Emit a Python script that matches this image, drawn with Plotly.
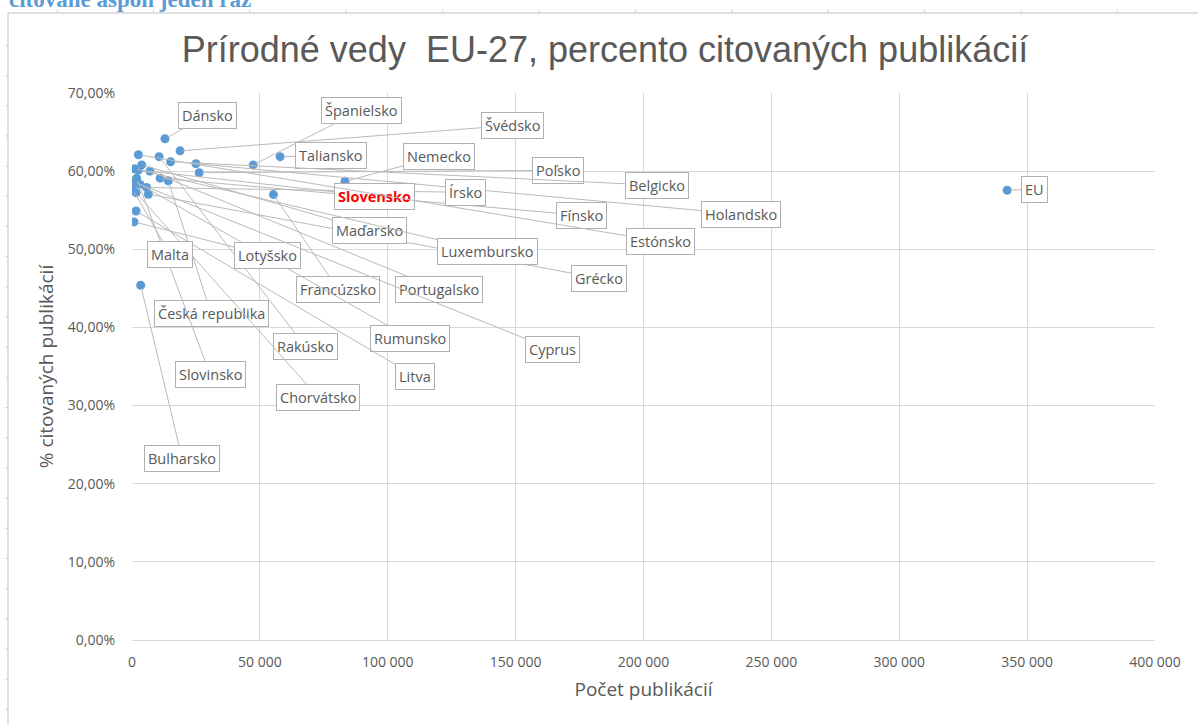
import plotly.graph_objects as go

# ---------------- data ----------------
countries = ["Dánsko", "Švédsko", "Španielsko", "Taliansko", "Nemecko", "Francúzsko",
             "Bulharsko", "EU", "Holandsko", "Poľsko", "Belgicko", "Rakúsko",
             "Česká republika", "Fínsko", "Portugalsko", "Grécko", "Írsko", "Maďarsko",
             "Rumunsko", "Slovensko", "Estónsko", "Slovinsko", "Chorvátsko", "Litva",
             "Lotyšsko", "Luxembursko", "Cyprus", "Malta"]
publications = [12900, 18800, 47400, 57900, 83300, 55300,
                3400, 342200, 25000, 26300, 15100, 10600,
                14200, 11000, 7000, 6400, 5700, 3800,
                3100, 2500, 2500, 1800, 1600, 1600,
                800, 900, 1000, 400]
cited_share = [0.6415, 0.626, 0.608, 0.6185, 0.587, 0.570,
               0.454, 0.5756, 0.6096, 0.598, 0.612, 0.6185,
               0.5875, 0.591, 0.600, 0.5705, 0.579, 0.608,
               0.583, 0.6015, 0.621, 0.591, 0.5725, 0.549,
               0.535, 0.603, 0.586, 0.576]

x_ticks = [0, 50000, 100000, 150000, 200000, 250000, 300000, 350000, 400000]
y_ticks = [0, 0.1, 0.2, 0.3, 0.4, 0.5, 0.6, 0.7]

title_text = "Prírodné vedy  EU-27, percento citovaných publikácií"
x_title = "Počet publikácií"
y_title = "% citovaných publikácií"
corner_text = "citované aspoň jeden raz"

# ---------------- layout (pixels) ----------------
W, H = 1198, 724
L, R, T, B = 132, 43, 92.6, 84
PW, PH = W - L - R, H - T - B
X_MAX, Y_MAX = 400000, 0.7

# label box centres in page pixels
label_px = {
    "Dánsko": (207, 115), "Španielsko": (361, 110), "Švédsko": (512, 125),
    "Taliansko": (331, 155), "Nemecko": (439, 156), "Poľsko": (558, 170),
    "Belgicko": (657, 185), "Slovensko": (374, 196), "Írsko": (465, 192),
    "Holandsko": (741, 214), "Fínsko": (581, 215), "Estónsko": (660, 241),
    "Maďarsko": (369, 230), "Luxembursko": (487, 251), "Grécko": (599, 278),
    "Malta": (170, 254), "Lotyšsko": (267, 255), "Francúzsko": (338, 289),
    "Portugalsko": (439, 289), "Česká republika": (211, 313), "Rakúsko": (305, 346),
    "Rumunsko": (410, 338), "Cyprus": (552, 349), "Slovinsko": (210, 374),
    "Chorvátsko": (318, 397), "Litva": (415, 376), "Bulharsko": (182, 458),
    "EU": (1034, 189),
}


def px_to_data(px, py):
    return (px - L) / PW * X_MAX, (H - B - py) / PH * Y_MAX


def px_to_paper(px, py):
    return (px - L) / PW, (H - B - py) / PH


FONT = "Open Sans"
GREY = "#595959"

fig = go.Figure()
fig.add_trace(go.Scatter(
    x=publications, y=cited_share, mode="markers",
    marker=dict(color="#5B9BD5", size=9),
    hovertext=countries, showlegend=False,
))

annotations = []
for name, xv, yv in zip(countries, publications, cited_share):
    lx, ly = px_to_data(*label_px[name])
    red = name == "Slovensko"
    annotations.append(dict(
        x=xv, y=yv, xref="x", yref="y",
        ax=lx, ay=ly, axref="x", ayref="y",
        text=f"<b>{name}</b>" if red else name,
        showarrow=True, arrowhead=0, arrowwidth=1, arrowcolor="#bababa",
        standoff=3,
        font=dict(family=FONT, size=14.5, color="#ff0000" if red else GREY),
        bgcolor="white", bordercolor="#b0b0b0", borderwidth=1, borderpad=3,
    ))

# corner text cut at the top
cx, cy = px_to_paper(7, 14)
annotations.append(dict(
    x=cx, y=cy, xref="paper", yref="paper", xanchor="left", yanchor="bottom",
    text=f"<b>{corner_text}</b>", showarrow=False,
    font=dict(family="Liberation Serif", size=23, color="#5B9BD5"),
))

shapes = []
# outer frame lines (top and left)
x0, y0 = px_to_paper(8, 12.5)
x1, _ = px_to_paper(W, 12.5)
_, yb = px_to_paper(8, H)
shapes.append(dict(type="line", xref="paper", yref="paper", x0=x0, y0=y0, x1=x1, y1=y0,
                   line=dict(color="#d4d4d4", width=1.5)))
shapes.append(dict(type="line", xref="paper", yref="paper", x0=x0, y0=y0, x1=x0, y1=yb,
                   line=dict(color="#d4d4d4", width=1.5)))
# ruler ticks
tx = 57
while tx < W:
    a, b1 = px_to_paper(tx, 9)
    _, b2 = px_to_paper(tx, 12.5)
    shapes.append(dict(type="line", xref="paper", yref="paper", x0=a, y0=b1, x1=a, y1=b2,
                       line=dict(color="#d4d4d4", width=1)))
    tx += 96.4
ty = 45
while ty < H:
    a1, b = px_to_paper(5, ty)
    a2, _ = px_to_paper(8, ty)
    shapes.append(dict(type="line", xref="paper", yref="paper", x0=a1, y0=b, x1=a2, y1=b,
                       line=dict(color="#d4d4d4", width=1)))
    ty += 30.2

fig.update_layout(
    width=W, height=H,
    margin=dict(l=L, r=R, t=T, b=B, autoexpand=False),
    paper_bgcolor="white", plot_bgcolor="white",
    separators=", ",
    title=dict(text=title_text, x=605 / W, xanchor="center", y=1 - 49 / H, yanchor="middle",
               font=dict(family="Liberation Sans", size=36, color=GREY)),
    xaxis=dict(range=[0, X_MAX], tickvals=x_ticks, tickformat=",.0f",
               showgrid=True, gridcolor="#d9d9d9", gridwidth=1, zeroline=False,
               showline=True, linecolor="#d9d9d9", linewidth=1,
               ticks="", ticklabelstandoff=9,
               tickfont=dict(family=FONT, size=14, color=GREY),
               title=dict(text=x_title, standoff=12, font=dict(family=FONT, size=19, color=GREY))),
    yaxis=dict(range=[0, Y_MAX], tickvals=y_ticks, tickformat=".2%",
               showgrid=True, gridcolor="#d9d9d9", gridwidth=1, zeroline=False,
               showline=False, ticks="", ticklabelstandoff=16,
               tickfont=dict(family=FONT, size=14, color=GREY),
               title=dict(text=y_title, standoff=9, font=dict(family=FONT, size=19, color=GREY))),
    annotations=annotations,
    shapes=shapes,
)

fig.write_html("out.html", config={"displayModeBar": False},
               post_script="document.body.style.margin='0';document.body.style.overflow='hidden';")
